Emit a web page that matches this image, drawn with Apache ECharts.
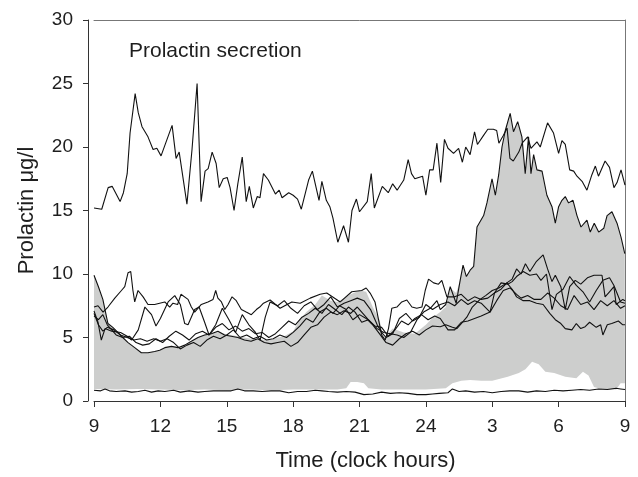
<!DOCTYPE html>
<html>
<head>
<meta charset="utf-8">
<script src="https://cdn.jsdelivr.net/npm/echarts@6/dist/echarts.min.js"></script>
<style>
html,body{margin:0;padding:0;background:#fff;}
#chart{width:638px;height:477px;}
</style>
</head>
<body>
<div id="chart"></div>
<script>
// Time in hours after 09:00 (0 = 9 h, 24 = 9 h next day); values in µg/l
const xTickLabels = ['9','12','15','18','21','24','3','6','9'];
const yTicks = [0, 5, 10, 15, 20, 25, 30];

// subject with high prolactin levels
const highSubject = [[0,15.2],[0.35,15.1],[0.64,16.8],[0.82,16.9],[1.18,15.7],[1.33,16.4],[1.5,17.9],[1.63,21.1],[1.86,24.2],[2.0,22.7],[2.17,21.6],[2.44,20.8],[2.67,19.8],[2.84,19.9],[3.03,19.3],[3.53,21.7],[3.71,19.1],[3.85,19.6],[4.2,15.5],[4.43,19.8],[4.66,25.0],[4.84,15.7],[5.02,18.1],[5.16,18.3],[5.34,19.6],[5.52,18.7],[5.66,16.8],[5.84,17.5],[6.02,17.6],[6.15,16.8],[6.33,15.0],[6.5,17.1],[6.7,19.2],[6.88,15.7],[7.02,16.9],[7.2,15.2],[7.38,16.1],[7.5,16.0],[7.66,17.9],[7.88,17.4],[8.2,16.3],[8.37,16.6],[8.5,16.0],[8.8,16.4],[9.0,16.2],[9.2,15.9],[9.37,15.1],[9.7,17.4],[9.87,18.1],[10.17,15.8],[10.3,17.3],[10.5,15.8],[10.66,15.3],[10.8,14.4],[11.02,12.5],[11.28,13.8],[11.5,12.5],[11.66,15.0],[11.86,15.9],[12.0,14.9],[12.35,15.7],[12.53,17.9],[12.67,15.2],[13.03,16.9],[13.3,16.4],[13.5,17.1],[13.7,16.6],[14.0,17.4],[14.2,19.0],[14.35,17.9],[14.5,17.5],[14.85,17.7],[15.0,16.2],[15.17,18.2],[15.33,18.2],[15.5,20.3],[15.67,17.2],[15.84,20.6],[16.0,19.9],[16.25,19.5],[16.48,19.9],[16.65,18.8],[16.8,20.0],[17.0,19.4],[17.2,21.2],[17.33,20.2],[17.6,20.9],[17.8,21.4],[18.05,21.4],[18.2,21.3],[18.3,20.3],[18.5,20.9],[18.67,21.5],[18.8,19.1],[18.95,18.9],[19.2,19.6],[19.35,20.3],[19.6,20.8],[19.75,19.9],[20.02,20.4],[20.17,20.0],[20.5,21.9],[20.77,21.1],[21.0,19.5],[21.15,20.5],[21.3,20.2],[21.5,18.2],[21.68,18.1],[21.83,17.7],[22.06,17.3],[22.28,16.6],[22.5,17.8],[22.66,18.5],[22.8,17.7],[23.1,18.9],[23.3,18.4],[23.5,16.8],[23.64,17.2],[23.82,18.2],[24.0,17.0]];

// subject with large nocturnal peak
const peakSubject = [[0,9.9],[0.2,9.0],[0.4,8.0],[0.63,6.1],[0.85,5.8],[1.08,5.4],[1.3,5.0],[1.54,4.6],[1.84,4.2],[2.14,3.8],[2.44,3.8],[2.74,3.9],[2.97,4.0],[3.2,4.2],[3.5,4.3],[3.8,4.2],[4.1,4.4],[4.4,4.7],[4.7,5.0],[5.0,5.2],[5.3,5.3],[5.6,5.5],[5.9,5.2],[6.2,5.1],[6.5,5.0],[6.8,4.8],[7.1,4.7],[7.4,4.9],[7.7,4.6],[8.0,4.5],[8.3,4.6],[8.6,4.7],[8.9,4.3],[9.2,4.6],[9.5,5.2],[9.8,5.8],[10.1,6.0],[10.4,6.6],[10.7,7.0],[11.0,6.8],[11.3,7.1],[11.6,6.9],[11.9,7.4],[12.2,6.8],[12.5,6.2],[12.8,5.7],[13.1,5.4],[13.4,5.3],[13.7,5.2],[14.0,5.0],[14.3,5.4],[14.6,6.4],[14.9,7.0],[15.2,7.3],[15.5,7.9],[15.65,7.2],[15.9,7.6],[16.1,9.0],[16.37,7.7],[16.55,9.5],[16.68,10.7],[16.83,9.8],[17.0,10.3],[17.16,10.6],[17.31,13.7],[17.61,14.6],[17.76,15.6],[17.99,17.5],[18.14,16.2],[18.29,17.8],[18.44,20.0],[18.59,21.3],[18.81,22.65],[18.96,21.2],[19.15,22.0],[19.34,20.8],[19.49,17.9],[19.64,20.8],[19.75,17.9],[19.87,19.4],[20.02,18.2],[20.25,18.1],[20.47,16.2],[20.7,15.3],[20.85,14.0],[21.0,15.3],[21.15,15.8],[21.3,16.1],[21.45,15.6],[21.65,15.8],[21.83,14.6],[22.01,13.7],[22.28,14.25],[22.43,13.3],[22.61,14.0],[22.81,13.3],[23.04,13.6],[23.19,14.6],[23.41,14.9],[23.64,14.0],[23.82,12.9],[23.99,11.6]];

const subjectA = [[0,7.4],[0.18,7.5],[0.41,7.0],[0.63,7.4],[0.94,8.1],[1.24,8.7],[1.39,9.0],[1.54,10.1],[1.66,10.2],[1.76,8.7],[1.84,7.8],[1.99,8.7],[2.22,8.2],[2.44,7.6],[2.74,7.6],[2.97,7.7],[3.2,7.8],[3.42,7.4],[3.57,7.7],[3.78,7.6],[3.93,8.4],[4.25,8.0],[4.4,7.4],[4.55,7.0],[4.85,7.6],[5.15,7.8],[5.38,8.0],[5.5,8.7],[5.6,8.1],[5.76,7.8],[5.91,7.2],[6.06,7.6],[6.24,8.2],[6.43,7.9],[6.66,7.2],[6.88,7.0],[7.11,6.8],[7.34,7.2],[7.49,7.4],[7.66,7.7],[7.96,7.95],[8.41,7.3],[8.94,7.8],[9.32,7.7],[9.77,8.1],[10.22,8.4],[10.52,8.5],[11.13,7.8],[11.65,8.6],[12.1,8.7],[12.3,8.9],[12.48,8.5],[12.7,7.8],[12.86,6.4],[13.0,5.2],[13.16,4.8],[13.31,5.7],[13.46,7.3],[13.69,7.4],[13.91,7.8],[14.14,7.95],[14.37,7.4],[14.59,7.3],[14.82,7.4],[14.97,8.7],[15.12,9.6],[15.35,9.3],[15.57,9.2],[15.72,9.5],[15.95,8.2],[16.3,8.2],[16.6,8.4],[16.9,7.9],[17.2,8.2],[17.5,8.0],[17.8,8.1],[18.1,8.5],[18.4,8.8],[18.66,9.3],[18.9,9.6],[19.1,10.4],[19.3,10.0],[19.5,10.8],[19.7,10.2],[20.0,11.0],[20.3,11.5],[20.5,10.4],[20.7,9.4],[20.85,9.9],[21.1,9.0],[21.3,7.2],[21.5,9.0],[21.75,9.5],[22.0,9.2],[22.3,9.7],[22.6,9.9],[22.96,9.9],[23.1,8.2],[23.3,8.6],[23.5,9.0],[23.6,7.6],[23.9,8.0],[24.0,7.9]];

const subjectB = [[0,7.1],[0.18,6.2],[0.33,4.8],[0.5,5.7],[0.8,5.5],[1.2,5.4],[1.5,5.1],[1.7,4.8],[2.0,5.6],[2.3,7.4],[2.6,6.8],[2.8,5.9],[3.0,6.5],[3.35,7.8],[3.65,8.3],[3.9,7.6],[4.1,6.1],[4.25,6.0],[4.55,7.2],[4.75,7.4],[5.0,6.2],[5.2,5.2],[5.5,6.0],[5.8,7.3],[6.1,6.4],[6.4,5.4],[6.7,6.8],[7.0,6.0],[7.3,5.4],[7.51,4.8],[7.74,6.6],[7.96,7.8],[8.3,7.5],[8.6,7.9],[8.9,7.3],[9.2,6.9],[9.5,7.5],[9.8,7.8],[10.1,7.2],[10.4,7.6],[10.7,8.2],[11.0,7.4],[11.3,7.7],[11.6,7.9],[11.9,8.1],[12.2,7.9],[12.5,7.2],[12.8,6.0],[13.0,5.4],[13.2,5.0],[13.5,5.3],[13.8,6.5],[14.1,6.9],[14.4,6.3],[14.7,6.6],[15.0,7.6],[15.3,7.2],[15.65,7.6],[16.0,7.8],[16.3,7.5],[16.6,8.0],[16.9,7.6],[17.2,7.9],[17.5,7.7],[17.9,7.0],[18.1,8.5],[18.4,9.3],[18.7,9.2],[18.9,9.4],[19.1,9.8],[19.4,10.2],[19.7,9.9],[20.0,10.0],[20.2,9.5],[20.45,10.0],[20.7,7.2],[20.9,8.4],[21.2,8.8],[21.5,9.8],[21.8,9.1],[22.1,8.6],[22.4,7.8],[22.7,8.7],[23.0,9.5],[23.3,9.7],[23.5,9.1],[23.8,7.8],[24.0,7.7]];

const subjectC = [[0,6.9],[0.2,6.0],[0.4,5.5],[0.6,5.8],[0.9,5.6],[1.2,5.2],[1.5,5.0],[1.8,4.8],[2.1,4.9],[2.4,4.7],[2.7,4.9],[3.0,4.7],[3.3,4.9],[3.6,4.6],[3.9,4.1],[4.2,4.4],[4.5,4.6],[4.8,4.3],[5.1,4.8],[5.4,5.1],[5.7,4.9],[6.0,5.2],[6.3,5.6],[6.6,5.0],[6.9,5.2],[7.2,4.9],[7.5,5.1],[7.8,4.8],[8.1,4.9],[8.4,5.2],[8.7,5.0],[9.0,5.4],[9.3,5.9],[9.6,6.5],[9.9,6.2],[10.2,7.0],[10.5,7.3],[10.8,6.9],[11.1,7.5],[11.4,7.2],[11.7,6.4],[12.0,6.8],[12.3,6.5],[12.6,6.0],[12.9,5.3],[13.2,4.6],[13.5,4.4],[13.8,4.9],[14.1,5.3],[14.4,5.5],[14.7,5.2],[15.0,5.6],[15.3,5.9],[15.65,5.85],[15.9,6.0],[16.2,5.8],[16.4,5.7],[16.6,6.1],[16.85,6.6],[17.1,7.4],[17.45,8.0],[17.7,8.3],[18.0,8.7],[18.3,8.9],[18.66,9.3],[18.9,8.8],[19.1,8.2],[19.4,7.9],[19.7,7.9],[20.0,7.7],[20.3,7.6],[20.6,6.9],[20.85,6.4],[21.1,6.1],[21.3,5.7],[21.6,5.6],[21.8,6.1],[22.0,5.7],[22.2,5.85],[22.4,6.2],[22.7,5.8],[22.9,6.0],[23.0,5.2],[23.2,6.0],[23.4,6.1],[23.7,6.3],[23.9,6.0],[24.0,6.0]];

const subjectD = [[0,6.7],[0.2,6.4],[0.4,6.8],[0.6,6.0],[0.8,5.6],[1.0,5.2],[1.3,5.0],[1.6,5.1],[1.9,4.6],[2.2,4.4],[2.5,4.5],[2.8,4.9],[3.1,4.6],[3.4,5.1],[3.7,5.5],[4.0,5.2],[4.3,4.8],[4.6,5.3],[4.9,5.5],[5.2,5.2],[5.5,5.8],[5.8,6.1],[6.1,5.6],[6.4,5.9],[6.7,5.5],[7.0,5.7],[7.3,5.3],[7.6,5.4],[7.9,5.0],[8.2,5.3],[8.5,5.8],[8.8,6.3],[9.1,6.0],[9.4,6.6],[9.7,6.9],[10.0,7.3],[10.3,6.9],[10.6,7.6],[10.9,7.2],[11.2,6.8],[11.5,7.4],[11.8,7.0],[12.1,6.2],[12.4,6.4],[12.7,5.9],[13.0,5.8],[13.3,5.1],[13.6,5.6],[13.9,6.3],[14.2,6.0],[14.5,6.5],[14.8,6.8],[15.1,6.4],[15.4,6.7],[15.65,6.5],[16.0,5.6],[16.3,5.6],[16.6,6.2],[16.9,6.3],[17.2,6.5],[17.5,6.7],[17.9,7.0],[18.2,7.9],[18.5,8.7],[18.8,8.9],[19.1,8.4],[19.3,8.1],[19.6,8.3],[19.9,8.0],[20.2,8.0],[20.5,8.5],[20.8,8.1],[21.1,7.5],[21.4,7.2],[21.7,8.3],[22.0,7.6],[22.3,7.8],[22.6,7.2],[22.9,7.9],[23.2,7.5],[23.5,7.9],[23.8,7.3],[24.0,7.5]];

// subject with very low levels
const lowSubject = [[0,0.85],[0.3,0.8],[0.5,0.95],[0.7,0.8],[1.0,0.75],[1.4,0.8],[1.7,0.7],[2.0,0.75],[2.3,0.85],[2.6,0.7],[2.9,0.8],[3.2,0.75],[3.6,0.85],[3.9,0.7],[4.3,0.8],[4.7,0.7],[5.0,0.75],[5.4,0.8],[5.8,0.8],[6.2,0.8],[6.5,0.95],[6.8,0.8],[7.2,0.8],[7.6,0.75],[8.0,0.8],[8.4,0.8],[8.8,0.65],[9.2,0.75],[9.6,0.75],[10.0,0.85],[10.3,0.8],[10.6,0.75],[11.0,0.7],[11.4,0.75],[11.8,0.7],[12.2,0.5],[12.6,0.55],[13.0,0.7],[13.4,0.6],[13.8,0.65],[14.2,0.6],[14.6,0.5],[15.0,0.5],[15.3,0.55],[15.6,0.6],[16.0,0.65],[16.2,0.95],[16.5,0.75],[16.8,0.8],[17.2,0.7],[17.6,0.75],[18.0,0.65],[18.4,0.75],[18.8,0.8],[19.2,0.8],[19.6,0.7],[20.0,0.8],[20.4,0.75],[20.8,0.85],[21.2,0.8],[21.6,0.85],[22.0,0.9],[22.4,0.85],[22.8,0.95],[23.2,0.9],[23.6,1.0],[23.8,0.95],[24.0,0.9]];

// grey reference range (upper and lower limits)
const rangeUpper = [[0,9.9],[0.2,9.0],[0.4,8.0],[0.63,6.1],[0.85,5.8],[1.08,5.4],[1.3,5.0],[1.54,4.6],[1.84,4.2],[2.14,3.8],[2.44,3.8],[2.74,3.9],[2.97,4.0],[3.2,4.2],[3.5,4.3],[3.8,4.2],[4.1,4.4],[4.4,4.7],[4.7,5.0],[5.0,5.2],[5.3,5.3],[5.6,5.5],[5.9,5.3],[6.2,5.2],[6.5,5.1],[6.8,5.0],[7.1,4.9],[7.4,4.9],[7.7,4.8],[8.0,4.8],[8.3,5.0],[8.6,5.1],[9.0,5.5],[9.3,6.4],[9.6,7.0],[10.0,7.6],[10.3,8.3],[10.7,7.9],[11.0,7.8],[11.3,8.1],[11.6,8.4],[12.0,8.7],[12.3,8.6],[12.6,7.4],[12.9,6.4],[13.1,5.0],[13.5,5.7],[14.0,5.4],[14.5,5.3],[15.0,6.0],[15.33,6.6],[15.65,7.0],[15.9,7.4],[16.1,8.9],[16.37,8.5],[16.55,9.5],[16.68,10.7],[16.83,9.8],[17.0,10.3],[17.16,10.6],[17.31,13.7],[17.61,14.6],[17.76,15.6],[17.99,17.5],[18.14,16.2],[18.29,17.8],[18.44,20.0],[18.59,21.3],[18.81,22.65],[18.96,21.2],[19.15,22.0],[19.34,20.8],[19.49,17.9],[19.64,20.8],[19.75,17.9],[19.87,19.4],[20.02,18.2],[20.25,18.1],[20.47,16.2],[20.7,15.3],[20.85,14.0],[21.0,15.3],[21.15,15.8],[21.3,16.1],[21.45,15.6],[21.65,15.8],[21.83,14.6],[22.01,13.7],[22.28,14.25],[22.43,13.3],[22.61,14.0],[22.81,13.3],[23.04,13.6],[23.19,14.6],[23.41,14.9],[23.64,14.0],[23.82,12.9],[23.99,11.6],[24.0,11.5]];
const rangeLower = [[0,0.95],[1,0.9],[2,0.95],[3,0.9],[4,0.85],[5,0.9],[6,0.85],[7,0.9],[8,0.85],[9,0.9],[10,0.9],[11,0.9],[11.4,1.0],[11.6,1.5],[11.9,1.5],[12.2,1.4],[12.4,1.0],[13,0.9],[14,0.9],[15,0.9],[15.9,1.0],[16.2,1.4],[16.6,1.6],[17.0,1.65],[17.5,1.6],[18.0,1.6],[18.7,1.9],[19.2,2.2],[19.5,2.5],[19.8,3.1],[20.1,2.9],[20.4,2.3],[20.8,2.2],[21.3,1.9],[21.8,1.8],[22.1,2.3],[22.35,2.0],[22.6,1.1],[23.0,0.9],[23.6,0.9],[23.8,1.4],[24,1.4]];

const FONT = "'Liberation Sans', Arial, Helvetica, sans-serif";
const TEXT = '#1e1e1e';

const subjects = [highSubject, peakSubject, subjectA, subjectB, subjectC, subjectD, lowSubject];

const chart = echarts.init(document.getElementById('chart'), null, {renderer: 'canvas'});
const series = [
  {
    type: 'line', data: rangeUpper, symbol: 'none', z: 1,
    lineStyle: {width: 0, opacity: 0},
    areaStyle: {color: '#cdcecd', opacity: 1, origin: 'start'},
    silent: true
  },
  {
    type: 'line', data: rangeLower, symbol: 'none', z: 2,
    lineStyle: {width: 0, opacity: 0},
    areaStyle: {color: '#ffffff', opacity: 1, origin: 'start'},
    silent: true
  }
].concat(subjects.map(d => ({
  type: 'line', data: d, symbol: 'none', z: 3,
  lineStyle: {color: '#111', width: 1.1},
  silent: true
})));

chart.setOption({
  animation: false,
  backgroundColor: '#fff',
  title: {
    text: 'Prolactin secretion', left: 124, top: 36,
    textStyle: {fontFamily: FONT, fontSize: 21, fontWeight: 'normal', color: TEXT}
  },
  grid: {left: 94, right: 13, top: 20, bottom: 76, containLabel: false},
  xAxis: [{
    type: 'value', min: 0, max: 24, interval: 3, position: 'bottom',
    axisLine: {show: true, onZero: false, lineStyle: {color: '#333', width: 1}},
    axisTick: {show: true, length: 6, lineStyle: {color: '#333'}},
    axisLabel: {fontFamily: FONT, fontSize: 19, color: TEXT, margin: 16,
      formatter: v => xTickLabels[Math.round(v / 3)]},
    splitLine: {show: false},
    name: 'Time (clock hours)', nameLocation: 'middle', nameGap: 49,
    nameTextStyle: {fontFamily: FONT, fontSize: 22, color: TEXT, padding: [0, 0, 0, 12]}
  }, {
    type: 'value', min: 0, max: 24, position: 'top',
    axisLine: {show: true, onZero: false, lineStyle: {color: '#777', width: 1}},
    axisTick: {show: false}, axisLabel: {show: false}, splitLine: {show: false}
  }],
  yAxis: [{
    type: 'value', min: 0, max: 30, interval: 5, offset: 6,
    axisLine: {show: true, onZero: false, lineStyle: {color: '#333', width: 1}},
    axisTick: {show: true, length: 5, lineStyle: {color: '#333'}},
    axisLabel: {fontFamily: FONT, fontSize: 19, color: TEXT, margin: 15,
      formatter: v => yTicks.includes(v) ? String(v) : ''},
    splitLine: {show: false},
    name: 'Prolactin μg/l', nameLocation: 'middle', nameGap: 50, nameRotate: 90,
    nameTextStyle: {fontFamily: FONT, fontSize: 22, color: TEXT}
  }, {
    type: 'value', min: 0, max: 30, position: 'right',
    axisLine: {show: true, onZero: false, lineStyle: {color: '#777', width: 1}},
    axisTick: {show: false}, axisLabel: {show: false}, splitLine: {show: false}
  }],
  series: series
});
</script>
</body>
</html>
